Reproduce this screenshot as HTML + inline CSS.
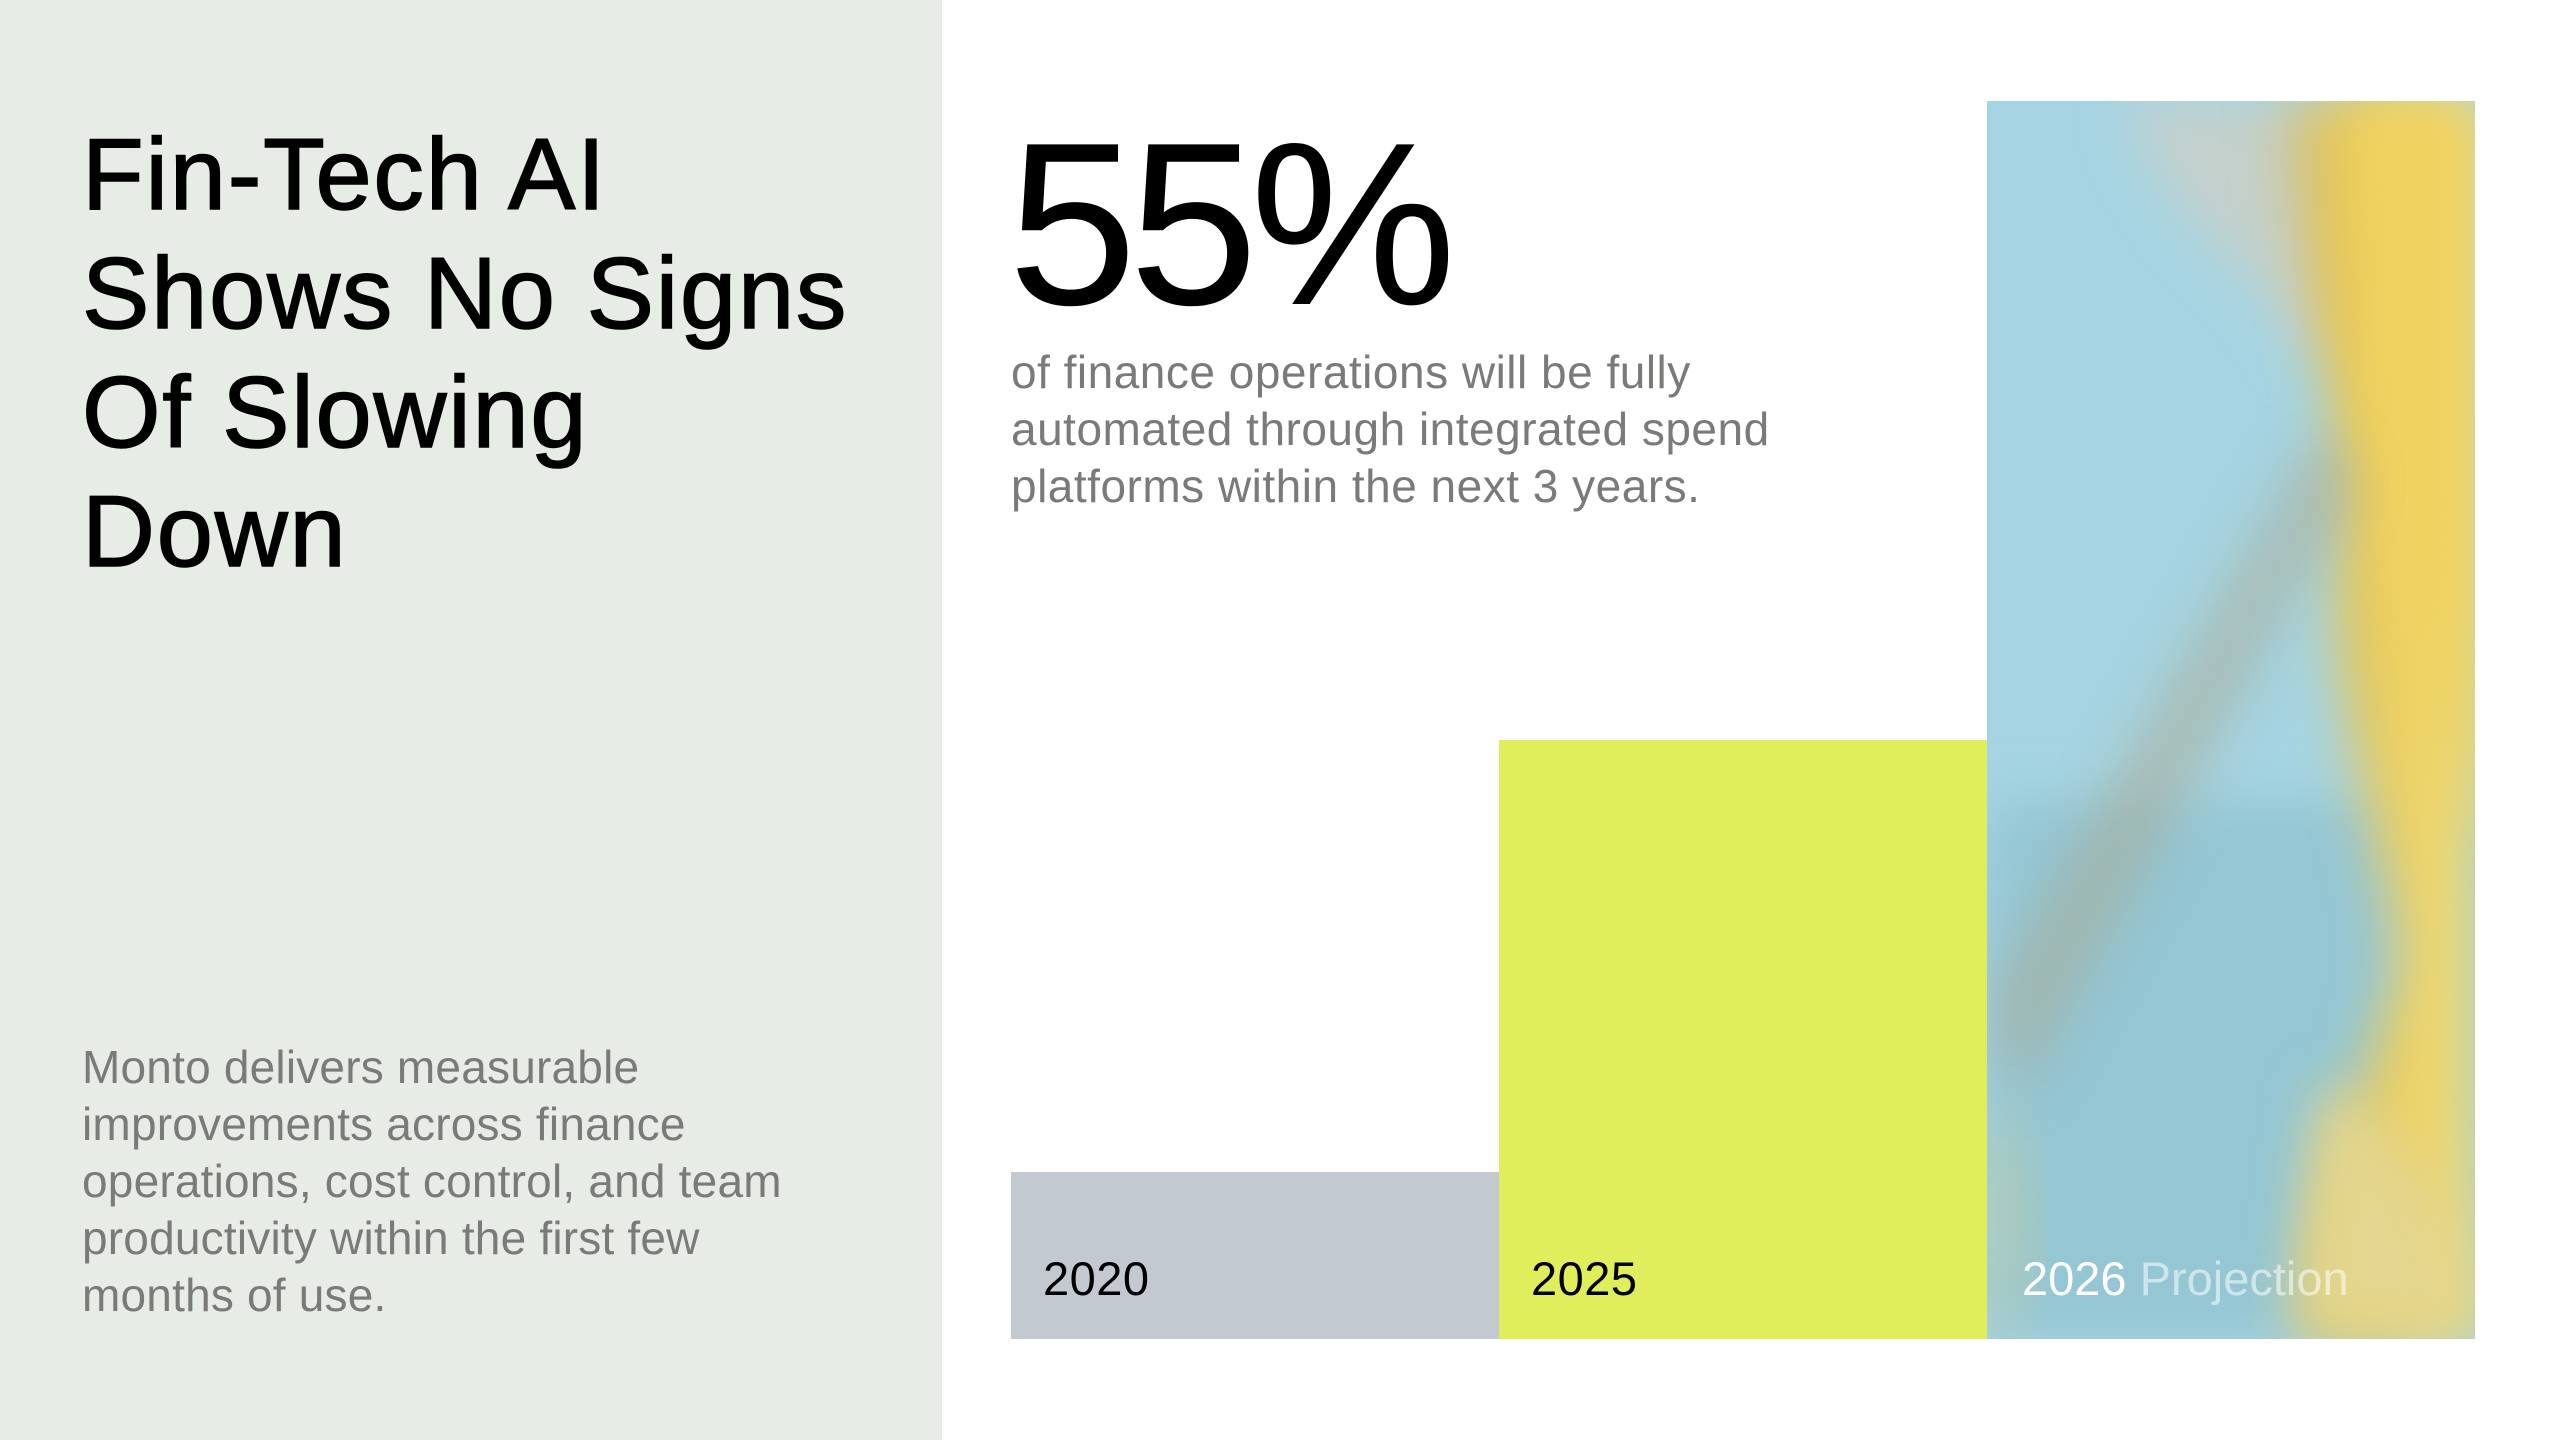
<!DOCTYPE html>
<html><head><meta charset="utf-8"><style>
*{margin:0;padding:0;box-sizing:border-box}
body{width:2560px;height:1440px;position:relative;background:#fff;font-family:"Liberation Sans",sans-serif;overflow:hidden}
#left{position:absolute;left:0;top:0;width:942px;height:1440px;background:#e8ece6}
h1{position:absolute;left:82px;top:116px;font-size:101px;line-height:119px;font-weight:400;color:#000;letter-spacing:1.8px;-webkit-text-stroke:1.5px #000}
#lp{position:absolute;left:82px;top:1039px;font-size:46px;line-height:57px;color:#7a7a78;letter-spacing:0.2px}
#big{position:absolute;left:1008px;top:105px;font-size:232px;line-height:240px;letter-spacing:-8px;color:#000}
#rp{position:absolute;left:1011px;top:344px;font-size:46px;line-height:57px;color:#7a7a78;letter-spacing:0.5px}
.bar{position:absolute;bottom:101px;width:488px}
.lab{position:absolute;left:32px;bottom:33px;font-size:47px;color:#000;letter-spacing:0.5px}
</style></head><body>
<div id="left"></div>
<h1>Fin-Tech AI<br>Shows No Signs<br>Of Slowing<br>Down</h1>
<div id="lp">Monto delivers measurable<br>improvements across finance<br>operations, cost control, and team<br>productivity within the first few<br>months of use.</div>
<div id="big">55%</div>
<div id="rp">of finance operations will be fully<br>automated through integrated spend<br>platforms within the next 3 years.</div>
<div class="bar" style="left:1011px;top:1172px;background:#c2c9d0"><div class="lab">2020</div></div>
<div class="bar" style="left:1499px;top:740px;background:#e0ee5c"><div class="lab">2025</div></div>
<div class="bar" style="left:1987px;top:101px;overflow:hidden;background:#a6d4e2">
<svg width="488" height="1238" style="position:absolute;left:0;top:0">
<defs><filter id="b" x="-50%" y="-50%" width="200%" height="200%"><feGaussianBlur stdDeviation="26"/></filter>
<linearGradient id="y" x1="0" x2="1"><stop offset="0" stop-color="#d8b850" stop-opacity="0"/><stop offset="0.3" stop-color="#e0c050"/><stop offset="1" stop-color="#f5df78"/></linearGradient></defs>
<rect width="488" height="1238" fill="#a6d4e2"/>
<rect y="700" width="488" height="538" fill="#94c6d4" filter="url(#b)"/>
<path d="M140,0 C190,150 290,170 320,260 L488,260 L488,0 Z" fill="#c4d0cc" filter="url(#b)"/>
<path d="M280,0 C320,200 360,300 350,450 C340,600 390,720 410,850 C400,950 330,1050 320,1238 L488,1238 L488,0 Z" fill="url(#y)" filter="url(#b)"/>
<path d="M360,0 L488,0 L488,760 C440,640 400,450 380,300 Z" fill="#f0d25e" filter="url(#b)"/>
<path d="M0,900 L330,330 L370,380 L30,1000 Z" fill="#a8a890" opacity="0.55" filter="url(#b)"/>
<path d="M0,1000 C60,1050 40,1150 20,1238 L0,1238 Z" fill="#c8cc98" opacity="0.6" filter="url(#b)"/>
<path d="M340,980 C450,1040 488,1150 488,1238 L310,1238 C310,1150 320,1070 340,980 Z" fill="#e4d68e" filter="url(#b)"/>
</svg>
<div class="lab" style="left:35px;color:#fff;letter-spacing:0">2026 <span style="color:rgba(255,255,255,0.55)">Projection</span></div>
</div>
</body></html>
